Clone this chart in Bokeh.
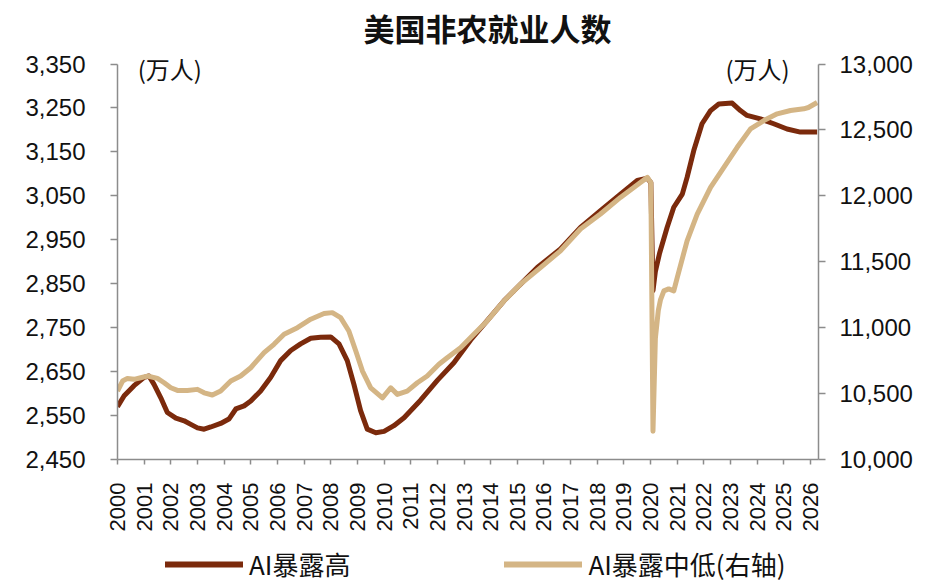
import math
from bokeh.plotting import figure
from bokeh.layouts import column
from bokeh.models import (Range1d, LinearAxis, FixedTicker, NumeralTickFormatter,
                          Label, Legend, LegendItem)
from bokeh.embed import file_html
from bokeh.resources import INLINE

# AI暴露高 (left axis, 万人)
high_t = [2000.00, 2000.25, 2000.62, 2001.00, 2001.18, 2001.37, 2001.62, 2001.87,
          2002.19, 2002.50, 2002.75, 2003.00, 2003.25, 2003.50, 2003.87, 2004.18,
          2004.44, 2004.75, 2005.00, 2005.37, 2005.75, 2006.12, 2006.50, 2006.87,
          2007.25, 2007.62, 2008.00, 2008.31, 2008.62, 2008.87, 2009.12, 2009.37,
          2009.69, 2010.00, 2010.37, 2010.75, 2011.37, 2012.00, 2012.62, 2013.25,
          2013.87, 2014.50, 2015.12, 2015.75, 2016.62, 2017.37, 2018.12, 2018.87,
          2019.50, 2019.88, 2020.01, 2020.09, 2020.18, 2020.34, 2020.62, 2020.87,
          2021.19, 2021.37, 2021.62, 2021.93, 2022.25, 2022.56, 2023.06, 2023.37,
          2023.62, 2024.12, 2024.62, 2025.12, 2025.62, 2026.25]
high_v = [2570, 2595, 2618, 2637, 2640, 2621, 2591, 2557,
          2544, 2538, 2530, 2522, 2519, 2524, 2532, 2542,
          2565, 2572, 2583, 2606, 2637, 2675, 2698, 2713,
          2726, 2728, 2729, 2713, 2675, 2621, 2561, 2519,
          2511, 2514, 2527, 2545, 2585, 2630, 2670, 2722,
          2766, 2811, 2849, 2887, 2929, 2978, 3016, 3054,
          3085, 3090, 3080, 2834, 2878, 2920, 2978, 3024,
          3054, 3092, 3153, 3214, 3244, 3259, 3261, 3244,
          3233, 3225, 3214, 3202, 3195, 3195]

# AI暴露中低 (right axis, 万人)
low_t = [2000.00, 2000.19, 2000.37, 2000.62, 2000.87, 2001.12, 2001.50, 2001.75,
         2002.00, 2002.25, 2002.62, 2003.00, 2003.25, 2003.56, 2003.87, 2004.25,
         2004.62, 2005.00, 2005.50, 2005.87, 2006.25, 2006.75, 2007.25, 2007.75,
         2008.06, 2008.37, 2008.68, 2008.94, 2009.19, 2009.50, 2009.94, 2010.25,
         2010.50, 2010.87, 2011.25, 2011.62, 2012.06, 2012.37, 2012.87, 2013.37,
         2013.87, 2014.50, 2015.12, 2015.87, 2016.62, 2017.37, 2018.12, 2018.87,
         2019.62, 2019.88, 2020.01, 2020.09, 2020.18, 2020.29, 2020.37, 2020.50,
         2020.68, 2020.87, 2021.00, 2021.37, 2021.75, 2022.25, 2022.75, 2023.25,
         2023.75, 2024.25, 2024.75, 2025.25, 2025.75, 2025.92, 2026.25]
low_v = [10519, 10595, 10615, 10608, 10620, 10633, 10615, 10582,
         10544, 10524, 10524, 10532, 10506, 10489, 10519, 10595,
         10633, 10696, 10810, 10874, 10950, 11000, 11064, 11107,
         11114, 11076, 10975, 10823, 10671, 10544, 10468, 10544,
         10494, 10519, 10582, 10633, 10722, 10772, 10848, 10950,
         11051, 11203, 11330, 11456, 11583, 11748, 11862, 11988,
         12102, 12140, 12100, 10215, 10920, 11130, 11210, 11279,
         11294, 11279, 11380, 11659, 11862, 12064, 12216, 12368,
         12508, 12571, 12622, 12647, 12660, 12670, 12708]

year_ticks = list(range(2000, 2027))
left_ticks = list(range(2450, 3351, 100))
right_ticks = list(range(10000, 13001, 500))
series_names = ["AI暴露高", "AI暴露中低(右轴)"]

DARK = "#7B2A0C"
LIGHT = "#D4B585"
AXIS = "#8C8C8C"
TXT = "#111111"
NUM_FONT = "Liberation Sans"
CJK_FONT = "Noto Sans CJK SC"

p = figure(width=939, height=540, output_backend="svg", toolbar_location=None,
           x_range=Range1d(2000, 2026.3), y_range=Range1d(2450, 3383.0),
           min_border_left=117, min_border_right=121, min_border_top=49,
           min_border_bottom=81, background_fill_color="white",
           border_fill_color="white", outline_line_color=None)
p.extra_y_ranges = {"right": Range1d(10000, 13110.0)}
p.grid.visible = False

p.title.text = "美国非农就业人数"
p.title.align = "left"
p.title.offset = 246
p.title.standoff = 0
p.title.text_font = CJK_FONT
p.title.text_font_size = "31px"
p.title.text_font_style = "bold"
p.title.text_color = TXT

def style_axis(ax, font_size):
    ax.axis_line_color = AXIS
    ax.axis_line_width = 1.5
    ax.major_tick_line_color = AXIS
    ax.major_tick_line_width = 1.5
    ax.major_tick_out = 7
    ax.major_tick_in = 0
    ax.minor_tick_line_color = None
    ax.major_label_text_font = NUM_FONT
    ax.major_label_text_font_size = font_size
    ax.major_label_text_color = TXT

xa = p.xaxis[0]
style_axis(xa, "22px")
xa.ticker = FixedTicker(ticks=year_ticks)
xa.major_label_orientation = math.pi / 2
xa.major_label_standoff = 18
xa.major_tick_out = 5

ya = p.yaxis[0]
style_axis(ya, "24px")
ya.ticker = FixedTicker(ticks=left_ticks)
ya.formatter = NumeralTickFormatter(format="0,0")
ya.major_label_standoff = 25
ya.bounds = (2450, 3350)

yr = LinearAxis(y_range_name="right")
style_axis(yr, "24px")
yr.ticker = FixedTicker(ticks=right_ticks)
yr.formatter = NumeralTickFormatter(format="0,0")
yr.major_label_standoff = 14
yr.bounds = (10000, 13000)
p.add_layout(yr, "right")

p.line(high_t, high_v, line_color=DARK, line_width=5, line_join="round")
p.line(low_t, low_v, line_color=LIGHT, line_width=5, line_join="round",
       y_range_name="right")

for xx, txt in [(2000.76, "(万人)"), (2022.81, "(万人)")]:
    p.add_layout(Label(x=xx, y=3340, text=txt, text_font=CJK_FONT,
                       text_font_size="24px", text_color=TXT,
                       text_baseline="middle", text_align="left"))

# legend strip below the chart
q = figure(width=939, height=47, output_backend="svg", toolbar_location=None,
           x_range=Range1d(0, 1), y_range=Range1d(0, 1),
           min_border=0, outline_line_color=None, background_fill_color="white",
           border_fill_color="white")
q.axis.visible = False
q.grid.visible = False
lh = q.line([-5, -4], [-5, -5], line_color=DARK, line_width=6, line_cap="round")
ll = q.line([-5, -4], [-5, -5], line_color=LIGHT, line_width=6, line_cap="round")
legend = Legend(items=[LegendItem(label=series_names[0], renderers=[lh]),
                       LegendItem(label=series_names[1], renderers=[ll])],
                location=(48, 5), orientation="horizontal",
                padding=0, margin=0, spacing=154, border_line_color=None,
                background_fill_alpha=0, glyph_width=78, glyph_height=24,
                label_standoff=6, label_text_font=CJK_FONT,
                label_text_font_size="26px", label_text_color=TXT)
q.add_layout(legend, "center")

open("out.html", "w").write(file_html(column(p, q, spacing=0), INLINE))
